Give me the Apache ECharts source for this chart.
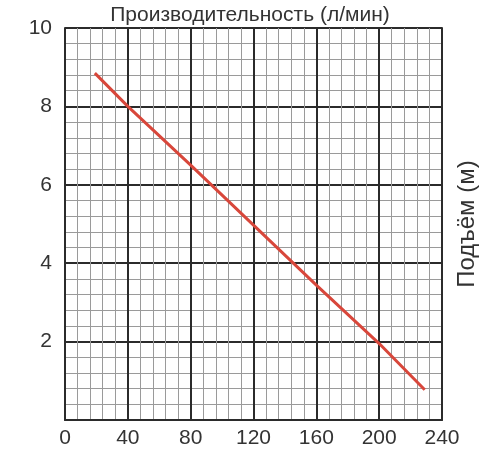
<!DOCTYPE html>
<html>
<head>
<meta charset="utf-8">
<script src="https://cdn.jsdelivr.net/npm/echarts@6/dist/echarts.min.js"></script>
<style>
  html, body { margin: 0; padding: 0; background: #fff; }
  #chart { width: 500px; height: 450px; }
</style>
</head>
<body>
<div id="chart"></div>
<script>
// данные кривой: производительность (л/мин) -> подъём (м)
const flow = [19, 40, 80, 120, 160, 200, 229];
const head = [8.85, 8.0, 6.5, 4.97, 3.44, 1.95, 0.77];

const xTicks = [0, 40, 80, 120, 160, 200, 240];
const yTicks = [0, 2, 4, 6, 8, 10];

const titleText = 'Производительность (л/мин)';
const yName = 'Подъём (м)';

const font = '"Liberation Sans", Arial, sans-serif';

const chart = echarts.init(document.getElementById('chart'));

const majorLine = { show: true, lineStyle: { color: '#2b2b2b', width: 2 } };
const minorLine = { show: true, lineStyle: { color: '#9a9a9a', width: 1 } };

const option = {
    animation: false,
    title: {
        text: titleText,
        left: 'center',
        top: 0,
        textStyle: { fontFamily: font, fontSize: 21, fontWeight: 'normal', color: '#333' }
    },
    grid: { left: 65, right: 58, top: 28, bottom: 30 },
    xAxis: {
        type: 'value',
        min: xTicks[0],
        max: xTicks[xTicks.length - 1],
        interval: 40,
        axisLine: { show: true, onZero: false, lineStyle: { color: '#2b2b2b', width: 2 } },
        axisTick: { show: false },
        axisLabel: { fontFamily: font, fontSize: 21, color: '#333', margin: 8 },
        splitLine: majorLine,
        minorTick: { show: false, splitNumber: 5 },
        minorSplitLine: minorLine
    },
    yAxis: [{
        type: 'value',
        min: yTicks[0],
        max: yTicks[yTicks.length - 1],
        interval: 2,
        axisLine: { show: true, lineStyle: { color: '#2b2b2b', width: 2 } },
        axisTick: { show: false },
        axisLabel: {
            fontFamily: font, fontSize: 21, color: '#333', margin: 13,
            formatter: v => (v === 0 ? '' : String(v))
        },
        splitLine: majorLine,
        minorTick: { show: false, splitNumber: 5 },
        minorSplitLine: minorLine
    }, {
        type: 'value',
        position: 'right',
        min: yTicks[0],
        max: yTicks[yTicks.length - 1],
        interval: 2,
        name: yName,
        nameLocation: 'middle',
        nameRotate: 90,
        nameGap: 13,
        nameTextStyle: { fontFamily: font, fontSize: 24, color: '#333' },
        axisLine: { show: true, lineStyle: { color: '#2b2b2b', width: 2 } },
        axisTick: { show: false },
        axisLabel: { show: false },
        splitLine: { show: false }
    }],
    series: [{
        type: 'line',
        data: flow.map((x, i) => [x, head[i]]),
        showSymbol: false,
        smooth: false,
        lineStyle: { color: '#d8473b', width: 3 }
    }]
};

chart.setOption(option);
</script>
</body>
</html>
